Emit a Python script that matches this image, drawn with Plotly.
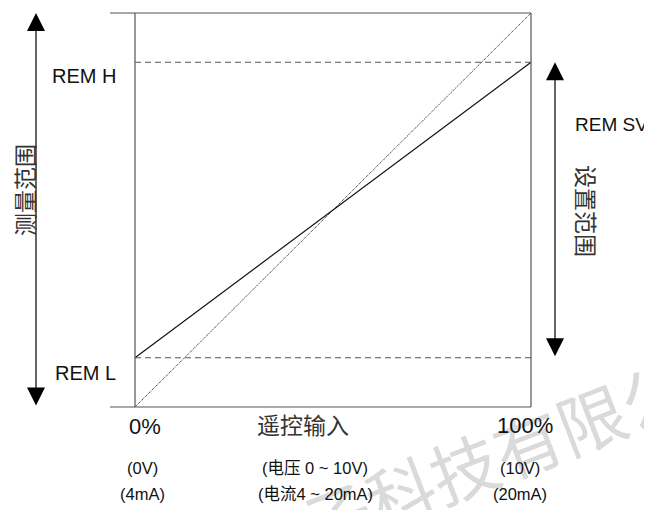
import plotly.graph_objects as go

# ── dados ─────────────────────────────────────────────────────────────────────
entrada_pct = [0, 100]          # 遥控输入 0% .. 100%
rem_l, rem_h = 12.5, 87.5       # limites REM L / REM H (% da faixa de medida)
linha_sv = [rem_l, rem_h]       # REM SV: 0% -> REM L, 100% -> REM H
linha_total = [0, 100]          # faixa completa (pontilhada)

rotulos_x = ['0%', '100%']
sub_x0 = ['(0V)', '(4mA)']
sub_meio = ['(电压 0 ~ 10V)', '(电流4 ~ 20mA)']
sub_x1 = ['(10V)', '(20mA)']

# ── geometria (pixels da página; o body tem 8px de margem) ────────────────────
W, H = 652, 510
OFF = 8
X0, X1 = 135, 531      # pixel de 0% e 100% no eixo x
Y0, Y1 = 407, 13       # pixel de 0 e 100 no eixo y
sx = (X1 - X0) / 100
sy = (Y0 - Y1) / 100

def px(x, y):
    """pixel da página -> coordenada de dados"""
    return (x - X0) / sx, (Y0 - y) / sy

LATIN = 'Liberation Sans, Arial, Noto Sans CJK SC, sans-serif'
CJK = 'Noto Sans CJK SC, sans-serif'

fig = go.Figure()

fig.add_trace(go.Scatter(x=entrada_pct, y=linha_total, mode='lines',
    line=dict(color='#111', width=1, dash='1px,1px'), hoverinfo='skip'))
fig.add_trace(go.Scatter(x=entrada_pct, y=linha_sv, mode='lines',
    line=dict(color='#111', width=1.2), hoverinfo='skip'))

# caixa
xl, _ = px(110, 0)
caixa = dict(color='#555', width=1.2)
fig.add_shape(type='line', x0=xl, x1=100, y0=100, y1=100, line=caixa)
fig.add_shape(type='line', x0=xl, x1=100, y0=0, y1=0, line=caixa)
fig.add_shape(type='line', x0=0, x1=0, y0=0, y1=100, line=caixa)
fig.add_shape(type='line', x0=100, x1=100, y0=0, y1=100, line=caixa)
for v in (rem_l, rem_h):
    fig.add_shape(type='line', x0=0, x1=100, y0=v, y1=v,
                  line=dict(color='#555', width=1.2, dash='6px,4px'))

anns = []
# marca d'água
wx, wy = px(495, 453)
anns.append(dict(x=wx, y=wy, text='电子科技有限公司', showarrow=False, textangle=-21,
                 font=dict(family=CJK, size=68, color='#dadada')))

# setas duplas
seta = dict(text='', showarrow=True, axref='x', ayref='y', arrowside='end+start',
            arrowhead=2, startarrowhead=2, arrowsize=3, startarrowsize=3,
            arrowwidth=1.2, arrowcolor='#000', standoff=0, startstandoff=0)
ax_l, _ = px(36, 0)
anns.append(dict(x=ax_l, y=100, ax=ax_l, ay=0, **seta))
ax_r, _ = px(555, 0)
anns.append(dict(x=ax_r, y=rem_h, ax=ax_r, ay=rem_l, **seta))

def texto(x, y, t, size, family=LATIN, color='#111', angle=0, xanchor='center'):
    dx, dy = px(x, y)
    anns.append(dict(x=dx, y=dy, text=t, showarrow=False, textangle=angle,
                     xanchor=xanchor, yanchor='middle',
                     font=dict(family=family, size=size, color=color)))

texto(84, 75.5, 'REM H', 20)
texto(85, 372.5, 'REM L', 20)
texto(573, 124.5, 'REM SV', 19, xanchor='left')
texto(24, 190, '测量范围', 23, CJK, '#333', -90)
texto(587, 211, '设置范围', 23, CJK, '#333', 90)

texto(145, 426, rotulos_x[0], 22)
texto(525, 425, rotulos_x[1], 22)
texto(303, 424, '遥控输入', 23, CJK, '#333')

for i, yy in enumerate((468, 494)):
    texto(142, yy, sub_x0[i], 16.5)
    texto(315, yy, sub_meio[i], 16.5)
    texto(520, yy, sub_x1[i], 16.5)

# eixos cobrem a figura inteira, deslocada pela margem do body
xmin, ymax = px(OFF, OFF)
xmax, ymin = px(W + OFF, H + OFF)
fig.update_layout(
    width=W, height=H, margin=dict(l=0, r=0, t=0, b=0),
    plot_bgcolor='white', paper_bgcolor='white', showlegend=False,
    xaxis=dict(range=[xmin, xmax], visible=False, fixedrange=True),
    yaxis=dict(range=[ymin, ymax], visible=False, fixedrange=True),
    annotations=anns,
)
fig.write_html('out.html')
